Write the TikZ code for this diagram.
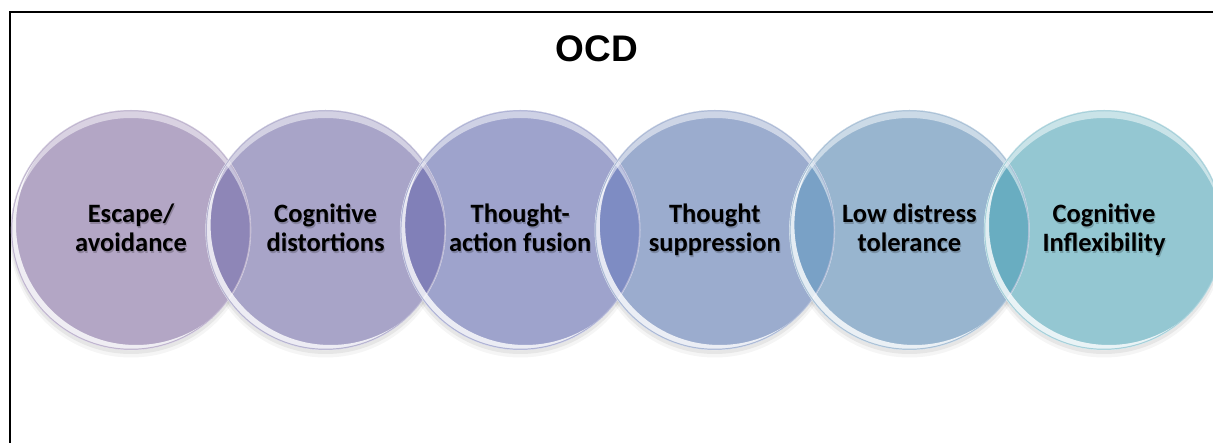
\documentclass[tikz,border=0pt]{standalone}
\usepackage{fontspec}
\setmainfont{Carlito}
\newfontfamily\titlefont{Liberation Sans}
\definecolor{cA}{HTML}{B3A6C5}
\definecolor{cB}{HTML}{A8A4C8}
\definecolor{cC}{HTML}{9EA3CC}
\definecolor{cD}{HTML}{9BACCE}
\definecolor{cE}{HTML}{98B5CF}
\definecolor{cF}{HTML}{94C7D2}
\definecolor{lAB}{HTML}{8E86B7}
\definecolor{lBC}{HTML}{8180B8}
\definecolor{lCD}{HTML}{7E8CC3}
\definecolor{lDE}{HTML}{79A1C6}
\definecolor{lEF}{HTML}{69ADC1}
\tikzset{
  lbl/.style={font=\bfseries\fontsize{26.5}{29}\selectfont, align=center, text=black, inner sep=0pt},
  lblshadow/.style={lbl, text=black, text opacity=0.2},
}
\newcommand{\rr}{120}
\begin{document}
\begin{tikzpicture}[x=1pt,y=1pt]
\useasboundingbox (0,0) rectangle (1213,442);
\fill[white] (0,0) rectangle (1213,442);
% frame
\draw[line width=2pt] (10,-5) -- (10,430) -- (1220,430);
% centers
\foreach \i/\x in {1/131,2/325.6,3/520.2,4/714.8,5/909.4,6/1104}{
  \coordinate (c\i) at (\x,212);
}
% shadows
\foreach \i in {1,...,6}{
  \fill[black,opacity=0.04] ([yshift=-6pt]c\i) circle (\rr+1.5);
  \fill[black,opacity=0.06] ([yshift=-3.5pt]c\i) circle (\rr+0.5);
}
% fills
\foreach \i/\c in {1/cA,2/cB,3/cC,4/cD,5/cE,6/cF}{
  \fill[\c] (c\i) circle (\rr);
}
% lens overlaps
\foreach \i/\j/\c in {1/2/lAB,2/3/lBC,3/4/lCD,4/5/lDE,5/6/lEF}{
  \begin{scope}
    \clip (c\i) circle (\rr);
    \fill[\c] (c\j) circle (\rr);
  \end{scope}
}
% highlights
\foreach \i/\c in {1/cA,2/cB,3/cC,4/cD,5/cE,6/cF}{
  \begin{scope}
    \clip (c\i) circle (\rr);
    \fill[white,opacity=0.5,even odd rule] (c\i) circle (\rr) ([yshift=-8pt]c\i) circle (\rr);
    \fill[white,opacity=0.8,even odd rule] (c\i) circle (\rr) ([xshift=5pt,yshift=5pt]c\i) circle (\rr);
    \draw[\c!85!white,line width=2.5pt] (c\i) circle (\rr);
  \end{scope}
  \draw[white,opacity=0.35,line width=0.6pt] (c\i) circle (\rr);
}
% labels
\foreach \i/\t in {1/{\strut Escape/\\\strut avoidance},2/{\strut Cognitive\\\strut distortions},3/{\strut Thought-\\\strut action fusion},4/{\strut Thought\\\strut suppression},5/{\strut Low distress\\\strut tolerance},6/{\strut Cognitive\\\strut Inflexibility}}{
  \node[lblshadow] at ([xshift=1pt,yshift=-3.5pt]c\i) {\t};
  \node[lbl] (t\i) at ([yshift=-1.5pt]c\i) {\t};
}
% title
\node[font=\titlefont\bfseries\fontsize{37}{42}\selectfont] (title) at (597,393) {OCD};
\end{tikzpicture}
\end{document}
